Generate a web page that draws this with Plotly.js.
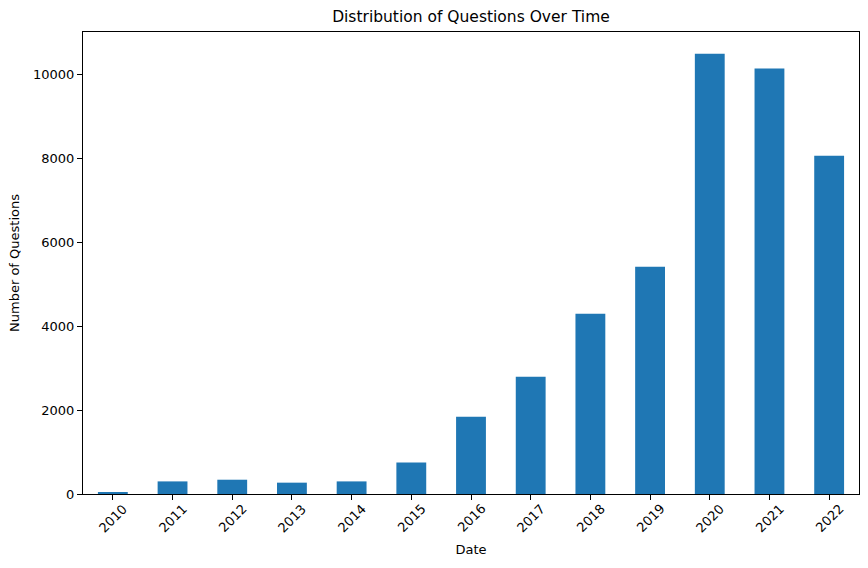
<!DOCTYPE html>
<html>
<head>
<meta charset="utf-8">
<script src="https://cdn.plot.ly/plotly-3.0.1.min.js"></script>
<style>
  html, body { margin: 0; padding: 0; background: #fff; }
  #chart { width: 868px; height: 568px; }
</style>
</head>
<body>
<div id="chart"></div>
<script>
// yearly question counts
var years = ['2010', '2011', '2012', '2013', '2014', '2015', '2016',
             '2017', '2018', '2019', '2020', '2021', '2022'];
var questionCounts = [30, 300, 340, 270, 300, 750, 1840,
                      2790, 4290, 5410, 10480, 10130, 8055];
var yTicks = [0, 2000, 4000, 6000, 8000, 10000];

var fontFamily = 'DejaVu Sans, sans-serif';

var plotlyData = [
    {
        x: years,
        y: questionCounts,
        type: 'bar',
        marker: { color: '#1f77b4', line: { width: 0 } },
        hoverinfo: 'x+y'
    }
];

// rotated year labels centred under each tick, like matplotlib's rotation=45
// (x given as category index, a string like '2010' would be read as a position)
var yearLabels = years.map(function(year, i)
{
    return {
        x: i,
        xref: 'x',
        y: 0,
        yref: 'paper',
        yshift: -24,
        text: year,
        textangle: -45,
        showarrow: false,
        xanchor: 'center',
        yanchor: 'middle',
        font: { family: fontFamily, size: 13, color: '#000' }
    };
});

var plotlyLayout = {
    width: 868,
    height: 568,
    margin: { l: 83, r: 9, t: 32, b: 74 },
    paper_bgcolor: '#fff',
    plot_bgcolor: '#fff',
    font: { family: fontFamily, size: 13, color: '#000' },
    showlegend: false,
    bargap: 0.5,
    title: {
        text: 'Distribution of Questions Over Time',
        font: { family: fontFamily, size: 15.5, color: '#000' },
        x: 0.5426,
        xanchor: 'center',
        y: 0.97,
        yanchor: 'middle',
        yref: 'container'
    },
    xaxis: {
        type: 'category',
        range: [-0.5, 12.5],
        showgrid: false,
        zeroline: false,
        showline: true,
        linecolor: '#000',
        linewidth: 1,
        mirror: true,
        ticks: 'outside',
        ticklen: 5,
        tickwidth: 1,
        tickcolor: '#000',
        showticklabels: false,
        automargin: false,
        title: {
            text: 'Date',
            font: { family: fontFamily, size: 13, color: '#000' },
            standoff: 45
        }
    },
    yaxis: {
        range: [0, 11000],
        tickvals: yTicks,
        ticktext: yTicks.map(String),
        showgrid: false,
        zeroline: false,
        showline: true,
        linecolor: '#000',
        linewidth: 1,
        mirror: true,
        ticks: 'outside',
        ticklen: 5,
        tickwidth: 1,
        tickcolor: '#000',
        tickfont: { family: fontFamily, size: 13, color: '#000' },
        automargin: false,
        title: {
            text: 'Number of Questions',
            font: { family: fontFamily, size: 13, color: '#000' },
            standoff: 10
        }
    },
    annotations: yearLabels
};

var plotlyConfig = {
    displayModeBar: false,
    responsive: false
};

Plotly.newPlot('chart', plotlyData, plotlyLayout, plotlyConfig);
</script>
</body>
</html>
